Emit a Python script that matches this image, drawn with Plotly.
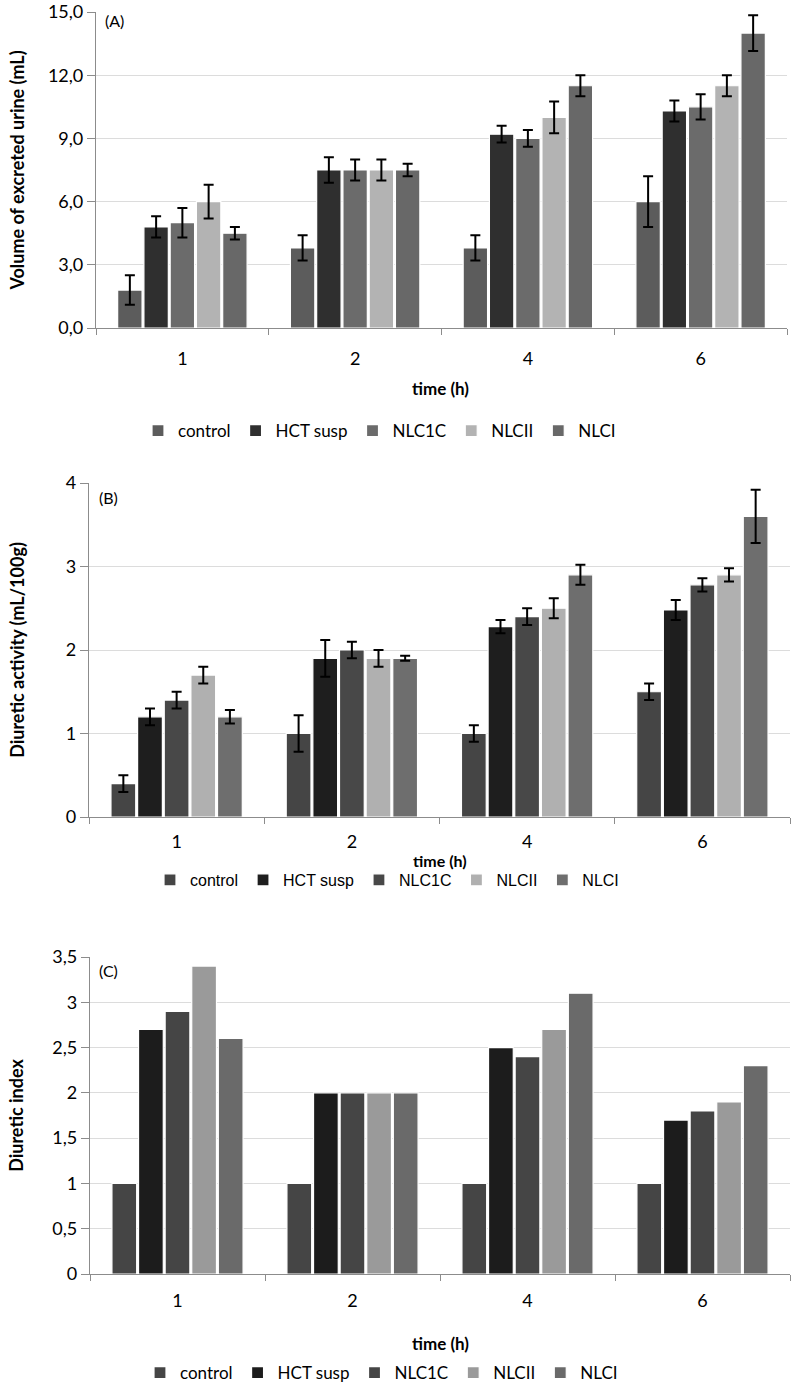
import plotly.graph_objects as go

W, H = 800, 1391

times = ["1", "2", "4", "6"]
series = ["control", "HCT susp", "NLC1C", "NLCII", "NLCI"]

# Panel A: volume of excreted urine (mL)
vol = {
    "control":  [1.8, 3.8, 3.8, 6.0],
    "HCT susp": [4.8, 7.5, 9.2, 10.3],
    "NLC1C":    [5.0, 7.5, 9.0, 10.5],
    "NLCII":    [6.0, 7.5, 10.0, 11.5],
    "NLCI":     [4.5, 7.5, 11.5, 14.0],
}
vol_err = {
    "control":  [0.7, 0.6, 0.6, 1.2],
    "HCT susp": [0.5, 0.6, 0.4, 0.5],
    "NLC1C":    [0.7, 0.5, 0.4, 0.6],
    "NLCII":    [0.8, 0.5, 0.75, 0.5],
    "NLCI":     [0.3, 0.3, 0.5, 0.85],
}
# Panel B: diuretic activity (mL/100g)
act = {
    "control":  [0.4, 1.0, 1.0, 1.5],
    "HCT susp": [1.2, 1.9, 2.28, 2.48],
    "NLC1C":    [1.4, 2.0, 2.4, 2.78],
    "NLCII":    [1.7, 1.9, 2.5, 2.9],
    "NLCI":     [1.2, 1.9, 2.9, 3.6],
}
act_err = {
    "control":  [0.1, 0.22, 0.1, 0.1],
    "HCT susp": [0.1, 0.22, 0.08, 0.12],
    "NLC1C":    [0.1, 0.1, 0.1, 0.08],
    "NLCII":    [0.1, 0.1, 0.12, 0.08],
    "NLCI":     [0.08, 0.03, 0.12, 0.32],
}
# Panel C: diuretic index
idx = {
    "control":  [1.0, 1.0, 1.0, 1.0],
    "HCT susp": [2.7, 2.0, 2.5, 1.7],
    "NLC1C":    [2.9, 2.0, 2.4, 1.8],
    "NLCII":    [3.4, 2.0, 2.7, 1.9],
    "NLCI":     [2.6, 2.0, 3.1, 2.3],
}

colors_a = ["#5c5c5c", "#2f2f2f", "#6b6b6b", "#b3b3b3", "#686868"]
colors_b = ["#454545", "#1e1e1e", "#484848", "#b0b0b0", "#6e6e6e"]
colors_c = ["#454545", "#1c1c1c", "#454545", "#9a9a9a", "#6a6a6a"]

FONT = "Lato"

def px_x(p):
    return p / W

def px_y(p):
    return 1 - p / H

fig = go.Figure()

panels = [
    ("x", "y", vol, vol_err, colors_a, "legend"),
    ("x2", "y2", act, act_err, colors_b, "legend2"),
    ("x3", "y3", idx, None, colors_c, "legend3"),
]
for xa, ya, data, err, cols, leg in panels:
    for s, c in zip(series, cols):
        kw = {}
        if err is not None:
            kw["error_y"] = dict(type="data", array=err[s], color="black",
                                 thickness=2, width=5, visible=True)
        fig.add_trace(go.Bar(
            x=times, y=data[s], name=s, xaxis=xa, yaxis=ya, legend=leg,
            marker=dict(color=c, line=dict(color="white", width=1.2)),
            **kw))

axis_common = dict(showline=True, linecolor="#8c8c8c", linewidth=1.2, automargin=False,
                   tickfont=dict(family=FONT, size=18, color="black"))
xcommon = dict(axis_common, type="category", ticks="outside", tickson="boundaries",
               ticklen=6, tickcolor="#8c8c8c")
ycommon = dict(axis_common, ticks="outside", ticklen=8, tickcolor="#8c8c8c",
               showgrid=True, gridcolor="#dcdcdc", gridwidth=1, zeroline=False,
               title_font=dict(family=FONT, size=18, color="black"))

fig.update_layout(
    width=W, height=H, margin=dict(l=0, r=0, t=0, b=0, autoexpand=False),
    plot_bgcolor="white", paper_bgcolor="white",
    separators=", ",
    barmode="group", bargap=0.24, bargroupgap=0.07,
    showlegend=True,
    xaxis=dict(xcommon, domain=[px_x(96), px_x(787)], anchor="y", ticklabelstandoff=14),
    yaxis=dict(ycommon, domain=[px_y(328), px_y(12)], anchor="x", range=[0, 15],
               dtick=3, tickformat=".1f",
               title=dict(text="<b>Volume of excreted urine (mL)</b>", standoff=18)),
    xaxis2=dict(xcommon, domain=[px_x(89), px_x(790)], anchor="y2", ticklabelstandoff=8),
    yaxis2=dict(ycommon, domain=[px_y(817), px_y(483)], anchor="x2", range=[0, 4],
                dtick=1,
                title=dict(text="<b>Diuretic activity (mL/100g)</b>", standoff=36)),
    xaxis3=dict(xcommon, domain=[px_x(90), px_x(790)], anchor="y3", ticklabelstandoff=10),
    yaxis3=dict(ycommon, domain=[px_y(1274), px_y(957)], anchor="x3", range=[0, 3.5],
                dtick=0.5,
                title=dict(text="<b>Diuretic index</b>", standoff=24)),
    legend=dict(orientation="h", x=px_x(138), xanchor="left", y=px_y(431), yanchor="middle",
                font=dict(family=FONT, size=17, color="black"), itemwidth=30),
    legend2=dict(orientation="h", x=px_x(150), xanchor="left", y=px_y(880), yanchor="middle",
                 font=dict(family="Liberation Sans", size=16, color="black"), itemwidth=30),
    legend3=dict(orientation="h", x=px_x(140), xanchor="left", y=px_y(1373), yanchor="middle",
                 font=dict(family=FONT, size=17, color="black"), itemwidth=30),
)

for txt, xp, yp in [("(A)", 103, 20), ("(B)", 97, 497), ("(C)", 97, 970)]:
    fig.add_annotation(text=txt, xref="paper", yref="paper", x=px_x(xp), y=px_y(yp),
                       xanchor="left", yanchor="middle", showarrow=False,
                       font=dict(family=FONT, size=16, color="black"))

for yp, fs in [(388, 17), (860, 16), (1343, 17)]:
    fig.add_annotation(text="<b>time (h)</b>", xref="paper", yref="paper",
                       x=px_x(440), y=px_y(yp), xanchor="center", yanchor="middle",
                       showarrow=False, font=dict(family=FONT, size=fs, color="black"))

fig.write_html("out.html", config={"displayModeBar": False},
               post_script="document.body.style.margin='0';document.body.style.padding='0';")
